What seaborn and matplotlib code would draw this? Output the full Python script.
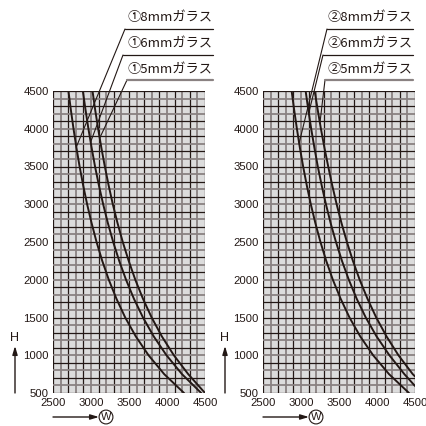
import numpy as np
import pandas as pd
import matplotlib
matplotlib.use("Agg")
import matplotlib.pyplot as plt
import seaborn as sns

# chart data (H in mm, W in mm)
H_levels = [4500, 4250, 4000, 3750, 3500, 3250, 3000, 2750, 2500,
            2250, 2000, 1750, 1500, 1250, 1000, 750, 500]

left_8mm = [2703, 2735, 2770, 2808, 2850, 2897, 2949, 3008, 3073,
            3148, 3234, 3334, 3450, 3589, 3757, 3963, 4224]
left_6mm = [2893, 2928, 2966, 3008, 3053, 3104, 3160, 3222, 3292,
            3371, 3461, 3564, 3684, 3825, 3993, 4197, 4450]
left_5mm = [3020, 3055, 3094, 3136, 3182, 3232, 3287, 3349, 3418,
            3496, 3583, 3683, 3798, 3932, 4090, 4279, 4500]

right_8mm_H = H_levels
right_8mm = [2877, 2910, 2946, 2985, 3028, 3076, 3129, 3189, 3256,
             3332, 3419, 3521, 3638, 3779, 3949, 4158, 4421]
right_6mm_H = H_levels[:-1] + [593]
right_6mm = [3061, 3096, 3134, 3176, 3221, 3272, 3328, 3390, 3460,
             3539, 3629, 3732, 3852, 3994, 4163, 4360, 4500]
right_5mm_H = H_levels[:-1] + [720]
right_5mm = [3180, 3220, 3262, 3308, 3358, 3411, 3469, 3533, 3604,
             3683, 3772, 3874, 3990, 4125, 4282, 4470, 4500]

glass = ["8mm", "6mm", "5mm"]
left_labels = ["①8mmガラス", "①6mmガラス", "①5mmガラス"]
right_labels = ["②8mmガラス", "②6mmガラス", "②5mmガラス"]
left_leader_H = [3758, 3825, 3877]
right_leader_H = [3810, 4209, 4076]

x_ticks = [2500, 3000, 3500, 4000, 4500]
y_ticks = [500, 1000, 1500, 2000, 2500, 3000, 3500, 4000, 4500]

sns.set_style("white")
plt.rcParams['font.family'] = ['Liberation Sans Narrow', 'Liberation Sans', 'DejaVu Sans']
jp_font = ['Noto Sans CJK JP', 'DejaVu Sans']

INK = "#231815"
GRAY = "#8a8282"
BG = "#dcdcdc"

W_px, H_px = 427, 426
fig = plt.figure(figsize=(W_px / 100, H_px / 100), dpi=100)

def make_df(curves):
    rows = []
    for name, hs, ws in curves:
        for h, w in zip(hs, ws):
            rows.append({"glass": name, "H": h, "W": w})
    return pd.DataFrame(rows)

left_df = make_df([("8mm", H_levels, left_8mm),
                   ("6mm", H_levels, left_6mm),
                   ("5mm", H_levels, left_5mm)])
right_df = make_df([("8mm", right_8mm_H, right_8mm),
                    ("6mm", right_6mm_H, right_6mm),
                    ("5mm", right_5mm_H, right_5mm)])


def draw_panel(ax, df):
    ax.set_facecolor(BG)
    # grid every 100 mm, alternating dark / gray lines
    for i, x in enumerate(np.arange(2500, 4501, 100)):
        c, lw = (INK, 0.9) if i % 2 == 0 else (GRAY, 1.3)
        ax.axvline(x, color=c, lw=lw, zorder=1)
    for i, y in enumerate(np.arange(500, 4501, 100)):
        c, lw = (INK, 0.9) if i % 2 == 0 else (GRAY, 1.3)
        ax.axhline(y, color=c, lw=lw, zorder=1)
    sns.lineplot(data=df, x="W", y="H", units="glass", estimator=None,
                 sort=False, color=INK, lw=1.4, ax=ax, zorder=3)
    ax.set_xlim(2500, 4500)
    ax.set_ylim(500, 4500)
    ax.set_xticks(x_ticks)
    ax.set_yticks(y_ticks)
    ax.tick_params(axis="both", length=0, labelsize=8.2, colors=INK)
    ax.tick_params(axis="x", pad=3.5)
    ax.tick_params(axis="y", pad=3)
    ax.set_xlabel("")
    ax.set_ylabel("")
    for s in ax.spines.values():
        s.set_visible(False)


def fx(px):
    return px / W_px


def fy(py):
    return 1 - py / H_px


ax1 = fig.add_axes([fx(53), fy(393), 152 / W_px, 302 / H_px])
ax2 = fig.add_axes([fx(263), fy(393), 152 / W_px, 302 / H_px])
draw_panel(ax1, left_df)
draw_panel(ax2, right_df)

# labels with underlines and leader lines
label_y = [18, 44, 70]
ul_y = [29, 55, 80]


def draw_labels(ax, labels, text_x, ul_x0, ul_x1, df, leader_H):
    for k, (lab, name) in enumerate(zip(labels, glass)):
        fig.text(fx(text_x), fy(label_y[k]), lab, family=jp_font, fontsize=9.5,
                 color=INK, ha="left", va="center")
        c, lw = (INK, 0.9) if k < 2 else (GRAY, 1.6)
        fig.add_artist(plt.Line2D([fx(ul_x0[k]), fx(ul_x1)], [fy(ul_y[k]), fy(ul_y[k])],
                                  color=c, lw=lw))
        sub = df[df["glass"] == name]
        hs = sub["H"].to_numpy()[::-1]
        ws = sub["W"].to_numpy()[::-1]
        w_pt = np.interp(leader_H[k], hs, ws)
        ax.annotate("", xy=(w_pt, leader_H[k]), xycoords="data",
                    xytext=(fx(ul_x0[k]), fy(ul_y[k])), textcoords="figure fraction",
                    arrowprops=dict(arrowstyle="-", color=INK, lw=0.8,
                                    shrinkA=0, shrinkB=0),
                    annotation_clip=False)


draw_labels(ax1, left_labels, 128, [125, 123, 127], 213, left_df, left_leader_H)
draw_labels(ax2, right_labels, 328, [327, 323, 325], 413, right_df, right_leader_H)

# axis direction markers (H arrow, W arrow with circled W)
for hx, wx0, wx1, wc in [(15, 53, 99, 106), (225, 263, 309, 316)]:
    fig.add_artist(matplotlib.patches.FancyArrowPatch(
        (fx(hx), fy(393)), (fx(hx), fy(346)), transform=fig.transFigure,
        arrowstyle="-|>,head_length=5,head_width=1.5", color=INK, lw=1.0,
        shrinkA=0, shrinkB=0))
    fig.text(fx(hx), fy(338), "H", fontsize=9, color=INK, ha="center", va="center")
    fig.add_artist(matplotlib.patches.FancyArrowPatch(
        (fx(wx0), fy(417)), (fx(wx1), fy(417)), transform=fig.transFigure,
        arrowstyle="-|>,head_length=5,head_width=1.5", color=INK, lw=1.0,
        shrinkA=0, shrinkB=0))
    fig.text(fx(wc), fy(417), "W", fontsize=8, color=INK, ha="center", va="center",
             bbox=dict(boxstyle="circle,pad=0.15", fc="white", ec=INK, lw=0.8))

fig.savefig("out.png", dpi=100, facecolor="white")
